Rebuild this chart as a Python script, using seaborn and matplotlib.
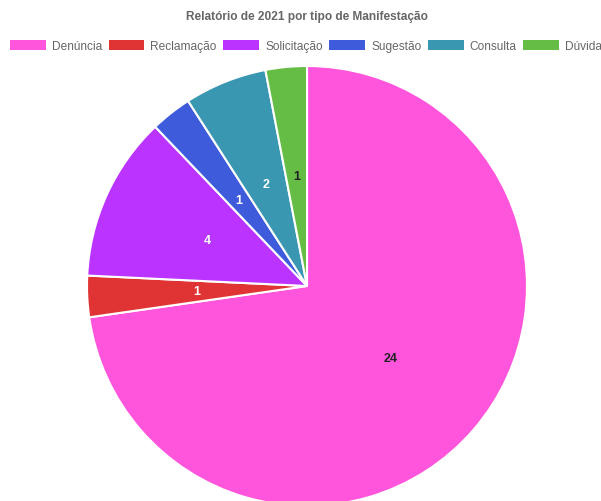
import matplotlib
matplotlib.use("Agg")
import matplotlib.pyplot as plt
from matplotlib.patches import Patch
import seaborn as sns

# dados
categorias = ["Denúncia", "Reclamação", "Solicitação", "Sugestão", "Consulta", "Dúvida"]
valores = [24, 1, 4, 1, 2, 1]
cores = ["#FF55DD", "#E03333", "#BB33FF", "#3D5BDB", "#3A97B2", "#66BD45"]
cor_rotulo = ["#222222", "white", "white", "white", "white", "#222222"]
titulo = "Relatório de 2021 por tipo de Manifestação"

sns.set_theme(style="white")
plt.rcParams["font.family"] = ["Liberation Sans", "DejaVu Sans"]

fig = plt.figure(figsize=(6.01, 5.02), dpi=100)
fig.patch.set_facecolor("white")

# pie area: center (307, 287) px, radius 220 px
ax = fig.add_axes([87 / 601, (502 - 287 - 220) / 502, 440 / 601, 440 / 502])
wedges, texts = ax.pie(valores, colors=cores, startangle=90, counterclock=False,
                       labels=[str(v) for v in valores], labeldistance=0.5,
                       wedgeprops=dict(edgecolor="white", linewidth=1.5))
for t, c in zip(texts, cor_rotulo):
    t.set_color(c)
    t.set_fontweight("bold")
    t.set_fontsize(9)
    t.set_ha("center")
    t.set_va("center")
ax.set_xlim(-1, 1)
ax.set_ylim(-1, 1)
ax.set_aspect("equal")
ax.axis("off")

fig.text(307 / 601, 1 - 17 / 502, titulo, ha="center", va="center",
         fontsize=8.6, fontweight="bold", color="#666666")

handles = [Patch(facecolor=c, edgecolor="none") for c in cores]
fig.legend(handles, categorias, loc="center left", bbox_to_anchor=(10 / 601, 1 - 47 / 502),
           ncol=6, frameon=False, fontsize=8.6, handlelength=3.0, handleheight=0.9,
           handletextpad=0.5, columnspacing=0.55, labelcolor="#666666",
           borderaxespad=0, borderpad=0)

fig.savefig("out.png", dpi=100, facecolor="white")
